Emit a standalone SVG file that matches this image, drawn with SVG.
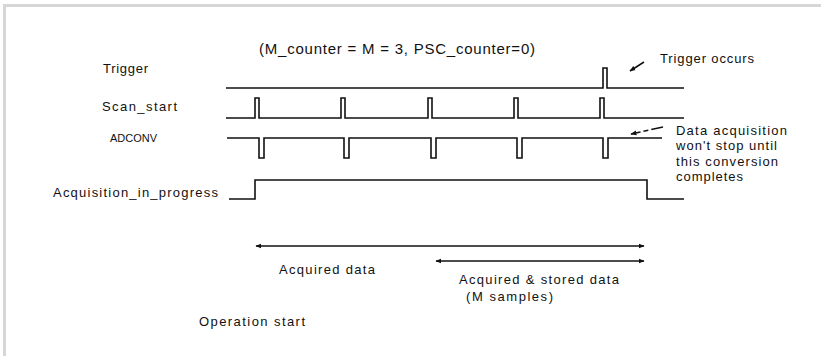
<svg xmlns="http://www.w3.org/2000/svg" width="821" height="356" viewBox="0 0 821 356">
  <defs>
    <marker id="ah" viewBox="0 0 10 10" refX="9" refY="5" markerWidth="6" markerHeight="6" orient="auto-start-reverse" markerUnits="userSpaceOnUse">
      <path d="M0,1 L10,5 L0,9 Z" fill="#111"/>
    </marker>
  </defs>
  <style>
    .sig { fill: none; stroke: #111; stroke-width: 1.6; stroke-linejoin: miter; }
    .lbl { font-family: "Liberation Sans", Arial, sans-serif; font-size: 13px; fill: #111; }
    .small { font-size: 11px; }
    .title { font-family: "Liberation Sans", Arial, sans-serif; font-size: 15px; fill: #111; }
    .arr { fill: none; stroke: #111; stroke-width: 1.5; }
    .frame { fill: #d6d6d6; }
  </style>
  <rect x="0" y="0" width="821" height="356" fill="#ffffff"/>
  <rect class="frame" x="3" y="4" width="818" height="3"/>
  <rect class="frame" x="3" y="4" width="3" height="352"/>

  <g id="title">
    <text class="title" x="259" y="54" textLength="276" lengthAdjust="spacing">(M_counter = M = 3, PSC_counter=0)</text>
  </g>

  <g id="trigger">
    <text class="lbl" x="103" y="73" textLength="45" lengthAdjust="spacing">Trigger</text>
    <path class="sig" d="M226,88 H603 V68 H607 V88 H684"/>
  </g>

  <g id="scan_start">
    <text class="lbl" x="102" y="111" textLength="75" lengthAdjust="spacing">Scan_start</text>
    <path class="sig" d="M226,118 H255 V98 H259 V118 H341 V98 H345 V118 H428 V98 H432 V118 H514 V98 H518 V118 H600 V98 H604 V118 H684"/>
  </g>

  <g id="adconv">
    <text class="lbl small" x="110" y="142" textLength="47" lengthAdjust="spacing">ADCONV</text>
    <path class="sig" d="M227,138 H259 V158 H264 V138 H344 V158 H349 V138 H431 V158 H436 V138 H517 V158 H522 V138 H603 V158 H608 V138 H662"/>
  </g>

  <g id="acquisition_in_progress">
    <text class="lbl" x="53" y="197" textLength="165" lengthAdjust="spacing">Acquisition_in_progress</text>
    <path class="sig" d="M229,199 H255 V180 H647 V199 H684"/>
  </g>

  <g id="trigger_occurs">
    <text class="lbl" x="660" y="63" textLength="94" lengthAdjust="spacing">Trigger occurs</text>
  </g>

  <g id="data_acquisition_note">
    <text class="lbl" x="676" y="135" textLength="111" lengthAdjust="spacing">Data acquisition</text>
    <text class="lbl" x="676" y="150" textLength="101" lengthAdjust="spacing">won't stop until</text>
    <text class="lbl" x="676" y="166" textLength="102" lengthAdjust="spacing">this conversion</text>
    <text class="lbl" x="676" y="181" textLength="67" lengthAdjust="spacing">completes</text>
  </g>

  <g id="acquired_data">
    <text class="lbl" x="279" y="274" textLength="96" lengthAdjust="spacing">Acquired data</text>
  </g>

  <g id="acquired_stored_data">
    <text class="lbl" x="459" y="284" textLength="160" lengthAdjust="spacing">Acquired &amp; stored data</text>
    <text class="lbl" x="466" y="301" textLength="87" lengthAdjust="spacing">(M samples)</text>
  </g>

  <g id="operation_start">
    <text class="lbl" x="199" y="326" textLength="106" lengthAdjust="spacing">Operation start</text>
  </g>

  <g id="connectors">
    <line class="arr" x1="256" y1="246" x2="644" y2="246" marker-start="url(#ah)" marker-end="url(#ah)"/>
    <line class="arr" x1="436" y1="261" x2="644" y2="261" marker-start="url(#ah)" marker-end="url(#ah)"/>
    <line class="arr" x1="644" y1="62" x2="630" y2="71" marker-end="url(#ah)"/>
    <line class="arr" x1="663" y1="127" x2="631" y2="134" stroke-dasharray="12,3,5,3" marker-end="url(#ah)"/>
  </g>
</svg>
